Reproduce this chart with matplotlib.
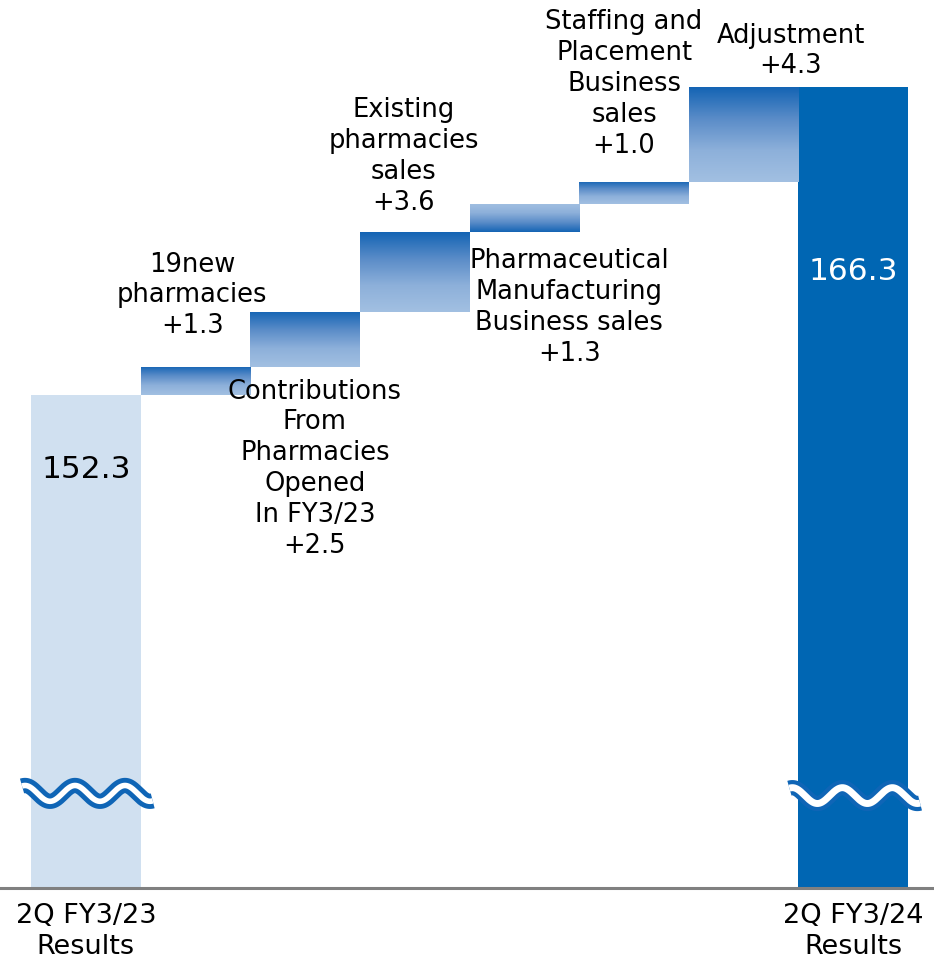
import numpy as np
import matplotlib
matplotlib.use('Agg')
import matplotlib.pyplot as plt
from matplotlib.colors import LinearSegmentedColormap

# sales bridge, 2Q FY3/23 -> 2Q FY3/24 (billion yen)
start_label = '2Q FY3/23\nResults'
end_label = '2Q FY3/24\nResults'
start_value = 152.3
end_value = 166.3

step_names = ['19new\npharmacies',
              'Contributions\nFrom\nPharmacies\nOpened\nIn FY3/23',
              'Existing\npharmacies\nsales',
              'Pharmaceutical\nManufacturing\nBusiness sales',
              'Staffing and\nPlacement\nBusiness\nsales',
              'Adjustment']
step_values = [1.3, 2.5, 3.6, 1.3, 1.0, 4.3]

axis_floor = 129.9   # value at the broken baseline
axis_top = 170.26

light = '#D0E0F0'
dark = '#0066B3'
wave_blue = '#0F65B6'
grad_cmap = LinearSegmentedColormap.from_list('grad', ['#A2C0E2', '#8DB0DA', '#5A8CC8', '#1464B4'])

fs = 18.5
ls = 1.24

fig = plt.figure(figsize=(9.34, 9.59), dpi=100)
ax = fig.add_axes([0, 71 / 959, 1, 888 / 959])

n = len(step_values) + 2
x = np.arange(n)

# end bars
ax.bar(x[0], start_value - axis_floor, bottom=axis_floor, width=1.0, color=light)
ax.bar(x[-1], end_value - axis_floor, bottom=axis_floor, width=1.0, color=dark)

# floating step bars with vertical gradient
bottoms = start_value + np.concatenate([[0], np.cumsum(step_values)[:-1]])
grad = np.linspace(0, 1, 256).reshape(-1, 1)
for i, (b, v) in enumerate(zip(bottoms, step_values)):
    xi = x[i + 1]
    bar = ax.bar(xi, v, bottom=b, width=1.0, color='none')[0]
    g = grad if i != 3 else grad[::-1]   # manufacturing bar is shaded the other way
    im = ax.imshow(g, cmap=grad_cmap, origin='lower', aspect='auto',
                   extent=(xi - 0.5, xi + 0.5, b, b + v), zorder=1)
    im.set_clip_path(bar)

# step labels: (dx, dy, anchored above top or below bottom)
label_pos = [(-0.03, 1.24, 'top'),
             (0.09, -0.55, 'bottom'),
             (-0.10, 0.75, 'top'),
             (0.41, -0.73, 'bottom'),
             (-0.09, 1.05, 'top'),
             (0.43, 0.35, 'top')]
for i, (name, v, b) in enumerate(zip(step_names, step_values, bottoms)):
    dx, dy, side = label_pos[i]
    txt = f'{name}\n+{v:.1f}'
    if side == 'top':
        ax.text(x[i + 1] + dx, b + v + dy, txt, ha='center', va='bottom',
                fontsize=fs, linespacing=ls, clip_on=False)
    else:
        ax.text(x[i + 1] + dx, b + dy, txt, ha='center', va='top',
                fontsize=fs, linespacing=ls, clip_on=False)

ax.text(x[0], start_value - 3.4, f'{start_value:.1f}', ha='center', va='center',
        fontsize=22.5, color='black')
ax.text(x[-1], end_value - 8.4, f'{end_value:.1f}', ha='center', va='center',
        fontsize=22.5, color='white')


def draw_break(xc, yc, gap):
    # wavy double line marking the cut in the axis
    xs = np.linspace(xc - 0.582, xc + 0.61, 300)
    ys = yc + 0.36 * np.cos(2 * np.pi * (xs - (xc - 0.555)) / 0.456)
    ax.plot(xs, ys, color=wave_blue, lw=11, solid_capstyle='butt', zorder=3)
    ax.plot(xs, ys, color='white', lw=gap, solid_capstyle='butt', zorder=4)


draw_break(x[0], 134.2, 4.0)
draw_break(x[-1], 134.1, 5.0)

ax.set_xlim(-0.783, n - 1 + 0.737)
ax.set_ylim(axis_floor, axis_top)
ax.set_xticks([x[0], x[-1]], [start_label, end_label], fontsize=19.5, linespacing=ls)
ax.tick_params(axis='x', length=0, pad=11)
ax.set_yticks([])
for s in ['top', 'left', 'right']:
    ax.spines[s].set_visible(False)
ax.spines['bottom'].set_color('#808080')
ax.spines['bottom'].set_linewidth(2.2)
ax.spines['bottom'].set_zorder(5)

fig.savefig('out.png', dpi=100)
